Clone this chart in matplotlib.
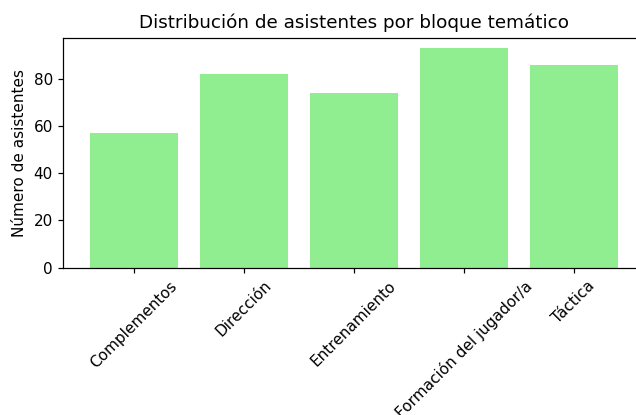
import matplotlib
matplotlib.use("Agg")
import matplotlib.pyplot as plt

bloques = ['Complementos', 'Dirección', 'Entrenamiento',
           'Formación del jugador/a', 'Táctica']
asistentes = [57, 82, 74, 93, 86]

# text in the original is about 10% bigger than at 100 dpi
dpi = 110
fig = plt.figure(figsize=(636 / dpi, 415 / dpi), dpi=dpi)
# the original axes runs a little past the right edge of the picture
ax = fig.add_axes([0.0998, 0.3554, 0.9127, 0.5542])

ax.bar(bloques, asistentes, color='lightgreen')

ax.set_ylabel("Número de asistentes")
ax.set_title("Distribución de asistentes por bloque temático")
plt.xticks(rotation=45)

fig.savefig("out.png", dpi=dpi)
